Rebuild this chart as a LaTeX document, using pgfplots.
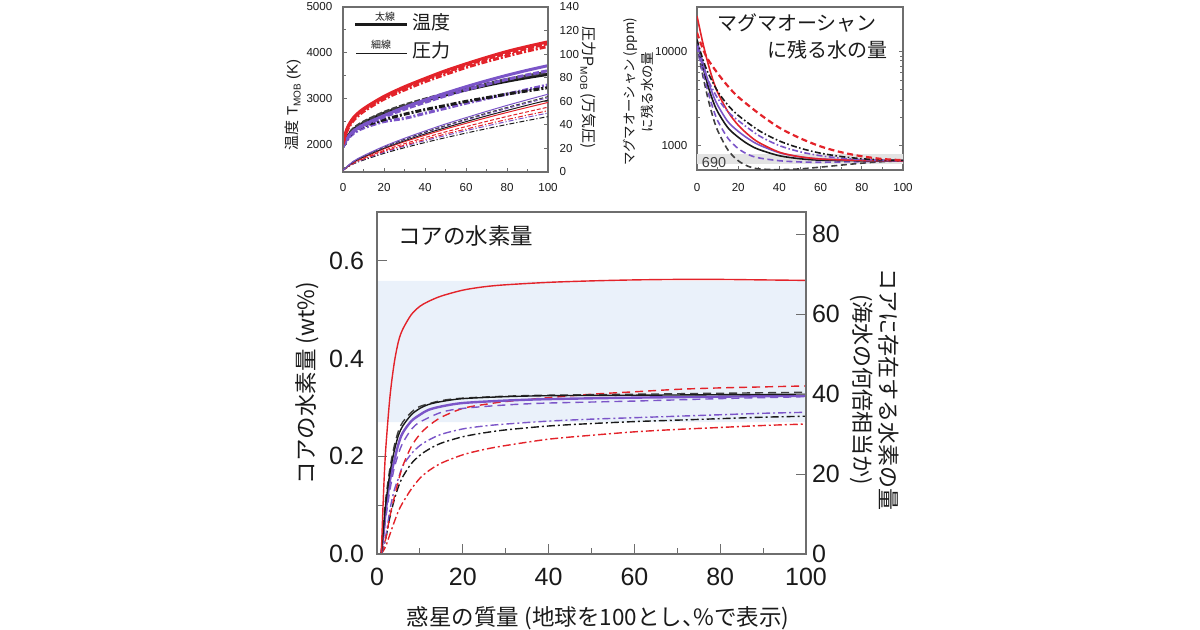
\documentclass[border=0pt]{standalone}
\usepackage{fontspec}
\setmainfont{Liberation Sans}
\newfontfamily\jp{Noto Sans CJK JP}
\usepackage{pgfplots}
\pgfplotsset{compat=1.18}
\definecolor{cred}{HTML}{E3232A}
\definecolor{cpur}{HTML}{7B55C8}
\definecolor{cblk}{HTML}{1A1A1A}
\definecolor{cgry}{HTML}{404040}
\definecolor{cband}{HTML}{EAF1FA}
\definecolor{axgray}{HTML}{6E6E6E}
\definecolor{txt}{HTML}{1A1A1A}
\pgfplotsset{
  /pgf/number format/1000 sep={},
  base/.style={scale only axis, axis line style={axgray,line width=0.6pt},
    tick style={axgray,line width=0.5pt}, tick align=inside,
    /pgf/number format/assume math mode=true, scaled ticks=false,
    xmin=0, xmax=100, ticklabel style={text=txt}},
  bs/.style={line width=0.7pt},
  bd/.style={line width=0.7pt, dash pattern=on 4pt off 2.5pt},
  bdd/.style={line width=0.7pt, dash pattern=on 4pt off 1.5pt on 1pt off 1.5pt},
  ts/.style={line width=1.5pt},
  td/.style={line width=1.5pt, dash pattern=on 3pt off 1pt},
  tdd/.style={line width=1.5pt, dash pattern=on 3pt off 1pt on 1pt off 1pt},
  ns/.style={line width=0.5pt},
  nd/.style={line width=0.5pt, dash pattern=on 2pt off 1pt},
  ndd/.style={line width=0.5pt, dash pattern=on 2.5pt off 1pt on 0.6pt off 1pt},
  rs/.style={line width=0.8pt},
  rd/.style={line width=0.8pt, dash pattern=on 3pt off 1.8pt},
  rdd/.style={line width=0.8pt, dash pattern=on 3pt off 1.2pt on 0.8pt off 1.2pt},
}
\begin{document}
\begin{tikzpicture}
\useasboundingbox (0,0) rectangle (600pt,315pt);

%================ TOP LEFT: temperature (thick) ================
\begin{axis}[base, at={(171.5pt,229pt)}, anchor=south west, width=102.5pt, height=82.5pt,
  ymin=1400, ymax=5000,
  xtick={0,20,...,100}, minor xtick={10,30,...,90}, xtick pos=bottom,
  ytick={2000,3000,4000,5000}, minor ytick={1500,2500,3500,4500}, ytick pos=left,
  major tick length=2.2pt, minor tick length=1.3pt,
  ticklabel style={font=\fontsize{5.8}{6}\selectfont},
  xticklabel style={yshift=-2.4pt}, yticklabel style={xshift=-1.8pt}]
\addplot[cpur, tdd, smooth] coordinates {(0,1950)(2,2100)(5,2240)(10,2360)(20,2500)(30,2570)(40,2680)(50,2790)(60,2900)(70,3000)(80,3100)(90,3200)(100,3300)};
\addplot[cblk, tdd, smooth] coordinates {(0,1950)(2,2120)(5,2280)(10,2400)(20,2540)(30,2660)(40,2760)(50,2850)(60,2940)(70,3020)(80,3100)(90,3170)(100,3240)};
\addplot[cblk, ts, smooth] coordinates {(0,1950)(2,2150)(5,2320)(10,2470)(20,2680)(30,2830)(40,2960)(50,3080)(60,3190)(70,3290)(80,3380)(90,3460)(100,3530)};
\addplot[cgry, td, smooth] coordinates {(0,1950)(2,2160)(5,2340)(10,2490)(20,2700)(30,2860)(40,2990)(50,3110)(60,3220)(70,3320)(80,3420)(90,3500)(100,3580)};
\addplot[cpur, td, smooth] coordinates {(0,1950)(2,2120)(5,2270)(10,2410)(20,2600)(30,2770)(40,2920)(50,3060)(60,3190)(70,3310)(80,3420)(90,3520)(100,3610)};
\addplot[cpur, ts, smooth] coordinates {(0,1950)(2,2130)(5,2290)(10,2430)(20,2630)(30,2810)(40,2970)(50,3120)(60,3260)(70,3390)(80,3510)(90,3620)(100,3720)};
\addplot[cred, tdd, smooth] coordinates {(0,2000)(2,2300)(5,2520)(10,2720)(20,2990)(30,3190)(40,3370)(50,3530)(60,3680)(70,3810)(80,3930)(90,4040)(100,4140)};
\addplot[cred, td, smooth] coordinates {(0,2050)(2,2330)(5,2560)(10,2760)(20,3030)(30,3240)(40,3420)(50,3580)(60,3730)(70,3870)(80,3990)(90,4100)(100,4200)};
\addplot[cred, ts, smooth] coordinates {(0,2050)(2,2350)(5,2580)(10,2780)(20,3050)(30,3260)(40,3440)(50,3610)(60,3760)(70,3900)(80,4030)(90,4140)(100,4240)};
\end{axis}

%================ TOP LEFT: pressure (thin) ================
\begin{axis}[base, at={(171.5pt,229pt)}, anchor=south west, width=102.5pt, height=82.5pt,
  ymin=0, ymax=140, xtick=\empty,
  ytick={0,20,...,140}, ytick pos=right, yticklabel pos=right,
  major tick length=2.2pt,
  ticklabel style={font=\fontsize{5.8}{6}\selectfont},
  yticklabel style={xshift=2.3pt}]
\addplot[cblk, ndd, smooth] coordinates {(0,1.5)(5,6.8)(10,10.1)(20,15.8)(30,20.6)(40,25.0)(50,29.1)(60,33.0)(70,36.7)(80,40.3)(90,43.7)(100,47)};
\addplot[cpur, ndd, smooth] coordinates {(0,1.5)(5,7.1)(10,10.7)(20,16.7)(30,21.9)(40,26.6)(50,30.9)(60,35.1)(70,39.0)(80,42.8)(90,46.5)(100,50)};
\addplot[cred, ndd, smooth] coordinates {(0,1.5)(5,7.4)(10,11.1)(20,17.4)(30,22.7)(40,27.6)(50,32.2)(60,36.4)(70,40.6)(80,44.5)(90,48.3)(100,52)};
\addplot[cred, nd, smooth] coordinates {(0,1.5)(5,7.7)(10,11.7)(20,18.3)(30,24.0)(40,29.2)(50,34.0)(60,38.5)(70,42.9)(80,47.1)(90,51.1)(100,55)};
\addplot[cred, ns, smooth] coordinates {(0,1.5)(5,8.2)(10,12.4)(20,19.6)(30,25.7)(40,31.2)(50,36.4)(60,41.3)(70,46.0)(80,50.5)(90,54.8)(100,59)};
\addplot[cblk, ns, smooth] coordinates {(0,1.5)(5,8.4)(10,12.8)(20,20.2)(30,26.5)(40,32.3)(50,37.6)(60,42.7)(70,47.6)(80,52.2)(90,56.7)(100,61)};
\addplot[cpur, nd, smooth] coordinates {(0,1.5)(5,8.6)(10,13.2)(20,20.8)(30,27.3)(40,33.3)(50,38.8)(60,44.1)(70,49.1)(80,53.9)(90,58.5)(100,63)};
\addplot[cgry, nd, smooth] coordinates {(0,1.5)(5,8.8)(10,13.4)(20,21.1)(30,27.8)(40,33.8)(50,39.4)(60,44.8)(70,49.9)(80,54.8)(90,59.4)(100,64)};
\addplot[cpur, ns, smooth] coordinates {(0,1.5)(5,9.0)(10,13.8)(20,21.8)(30,28.6)(40,34.8)(50,40.7)(60,46.1)(70,51.4)(80,56.5)(90,61.3)(100,66)};
\end{axis}

% top-left legend and labels
\draw[cblk, line width=1.5pt] (177.5pt,302.9pt) -- (203.5pt,302.9pt);
\draw[cblk, line width=0.5pt] (178pt,288.4pt) -- (203.5pt,288.4pt);
\node[text=txt, font=\jp\fontsize{5}{5}\selectfont] at (192.5pt,306.8pt) {太線};
\node[text=txt, font=\jp\fontsize{5}{5}\selectfont] at (190.5pt,292.4pt) {細線};
\node[text=txt, font=\jp\fontsize{9.5}{10}\selectfont] at (215.5pt,303.6pt) {温度};
\node[text=txt, font=\jp\fontsize{9.5}{10}\selectfont] at (215.5pt,290pt) {圧力};
\node[text=txt, rotate=90, font=\fontsize{7.5}{8}\selectfont] at (146.5pt,262.5pt)
  {{\jp 温度} T\raisebox{-0.35ex}{\fontsize{5}{5}\selectfont MOB} (K)};
\node[text=txt, rotate=-90, font=\fontsize{7.5}{8}\selectfont] at (294pt,271pt)
  {{\jp 圧力}P\raisebox{-0.35ex}{\fontsize{5}{5}\selectfont MOB} {\jp (万気圧)}};

%================ TOP RIGHT: water in magma ocean ================
\begin{axis}[base, at={(348.5pt,230pt)}, anchor=south west, width=103pt, height=81.5pt,
  ymode=log, ymin=550, ymax=30000,
  xtick={0,20,...,100}, minor xtick={10,30,...,90}, xtick pos=bottom,
  ytick={1000,10000}, yticklabels={1000,10000}, ytick pos=both, yticklabel pos=left,
  major tick length=2.2pt, minor tick length=1.3pt,
  ticklabel style={font=\fontsize{5.8}{6}\selectfont},
  xticklabel style={yshift=-3.3pt}, yticklabel style={xshift=-1.3pt}]
\addplot[fill=gray!22, draw=none] coordinates {(0,640)(100,640)(100,810)(0,810)(0,640)};
\addplot[cgry, rd, smooth] coordinates {(0,12000)(2,6800)(5,3400)(7.5,2100)(10,1450)(15,900)(20,690)(25,600)(30,565)(40,555)(50,565)(60,590)(70,620)(80,650)(90,675)(100,690)};
\addplot[cpur, rd, smooth] coordinates {(0,11500)(2,7200)(5,4000)(7.5,2600)(10,1850)(15,1200)(20,930)(25,800)(30,740)(40,690)(50,670)(60,665)(80,675)(100,690)};
\addplot[cblk, rs, smooth] coordinates {(0,12500)(2,8200)(5,4600)(7.5,3100)(10,2300)(15,1550)(20,1230)(25,1030)(30,910)(40,780)(50,725)(60,700)(80,690)(100,690)};
\addplot[cpur, rs, smooth] coordinates {(0,13000)(2,9000)(5,5200)(7.5,3600)(10,2700)(15,1800)(20,1420)(25,1180)(30,1020)(40,840)(50,760)(60,720)(80,700)(100,690)};
\addplot[cred, rs, smooth] coordinates {(0,24000)(1,19000)(2,15000)(3,12000)(5,8000)(7.5,5200)(10,3700)(15,2300)(20,1650)(25,1300)(30,1080)(40,850)(50,760)(60,720)(70,705)(80,695)(100,690)};
\addplot[cpur, rdd, smooth] coordinates {(0,11500)(2,8000)(5,5200)(10,3200)(15,2300)(20,1850)(30,1280)(40,1000)(50,860)(60,780)(70,735)(80,710)(90,700)(100,690)};
\addplot[cblk, rdd, smooth] coordinates {(0,13500)(2,9500)(5,6200)(10,3800)(15,2700)(20,2100)(30,1450)(40,1120)(50,940)(60,830)(70,765)(80,725)(90,705)(100,695)};
\addplot[cred, rd, line width=1.1pt, smooth] coordinates {(0,16000)(2,12000)(5,8500)(10,5900)(15,4300)(20,3300)(30,2200)(40,1550)(50,1200)(60,980)(70,850)(80,770)(90,720)(100,700)};
\end{axis}
\node[text=cgry, font=\fontsize{7.2}{7.5}\selectfont] at (357pt,233.5pt) {690};
\node[text=txt, font=\jp\fontsize{10}{10}\selectfont] at (398.5pt,303.5pt) {マグマオーシャン};
\node[text=txt, font=\jp\fontsize{10}{10}\selectfont] at (413.5pt,290pt) {に残る水の量};
\node[text=txt, rotate=90, align=center, font=\jp\fontsize{6.7}{9}\selectfont] at (319.3pt,269pt)
  {マグマオーシャン (ppm)\\に残る水の量};

%================ BOTTOM: hydrogen in core ================
\begin{axis}[base, at={(188.5pt,38pt)}, anchor=south west, width=214.5pt, height=171pt,
  ymin=0, ymax=0.7,
  xtick={0,20,...,100}, minor xtick={10,30,...,90}, xtick pos=bottom,
  ytick={0,0.2,0.4,0.6}, minor ytick={0.1,0.3,0.5}, ytick pos=left,
  major tick length=5pt, minor tick length=3pt,
  ticklabel style={font=\fontsize{12.5}{13}\selectfont},
  yticklabel style={/pgf/number format/fixed, /pgf/number format/fixed zerofill, /pgf/number format/precision=1, xshift=-3pt},
  xticklabel style={yshift=-3.5pt}]
\addplot[fill=cband, draw=none] coordinates {(0,0.27)(100,0.27)(100,0.559)(0,0.559)(0,0.27)};
\addplot[cred, bdd, smooth] coordinates {(1,0)(2,0.015)(3,0.04)(4,0.065)(5,0.088)(6,0.105)(8,0.133)(10,0.155)(12,0.17)(15,0.186)(20,0.203)(25,0.214)(30,0.222)(40,0.235)(50,0.243)(60,0.25)(70,0.255)(80,0.259)(90,0.263)(100,0.266)};
\addplot[cblk, bdd, smooth] coordinates {(1,0)(2,0.03)(3,0.075)(4,0.11)(5,0.138)(6,0.158)(8,0.185)(10,0.202)(12,0.214)(15,0.227)(20,0.24)(25,0.248)(30,0.254)(40,0.262)(50,0.267)(60,0.271)(70,0.274)(80,0.277)(90,0.28)(100,0.282)};
\addplot[cpur, bdd, smooth] coordinates {(1,0)(2,0.035)(3,0.09)(4,0.13)(5,0.155)(6,0.18)(8,0.205)(10,0.222)(12,0.233)(15,0.245)(20,0.256)(25,0.262)(30,0.266)(40,0.272)(50,0.276)(60,0.279)(70,0.282)(80,0.285)(90,0.288)(100,0.29)};
\addplot[cred, bd, smooth] coordinates {(1,0)(2,0.03)(3,0.077)(4,0.115)(5,0.15)(6,0.18)(8,0.22)(10,0.245)(12,0.262)(15,0.28)(20,0.298)(25,0.306)(30,0.312)(40,0.32)(50,0.327)(60,0.332)(70,0.337)(80,0.34)(90,0.342)(100,0.344)};
\addplot[cpur, bd, smooth] coordinates {(1,0)(2,0.07)(3,0.13)(4,0.175)(5,0.205)(6,0.227)(8,0.255)(10,0.27)(15,0.29)(20,0.298)(30,0.305)(40,0.309)(60,0.313)(80,0.318)(100,0.322)};
\addplot[cpur, line width=1.2pt, smooth] coordinates {(1,0)(1.5,0.04)(2,0.085)(3,0.15)(4,0.19)(5,0.225)(6,0.248)(8,0.272)(10,0.285)(12,0.295)(15,0.302)(20,0.309)(30,0.314)(40,0.317)(60,0.32)(80,0.322)(100,0.324)};
\addplot[cgry, bd, smooth] coordinates {(1,0)(1.5,0.06)(2,0.11)(3,0.175)(4,0.22)(5,0.252)(6,0.27)(8,0.29)(10,0.302)(15,0.314)(20,0.319)(30,0.323)(40,0.325)(60,0.327)(80,0.329)(100,0.331)};
\addplot[cblk, bs, smooth] coordinates {(1,0)(1.5,0.05)(2,0.1)(3,0.165)(4,0.21)(5,0.243)(6,0.262)(8,0.285)(10,0.298)(12,0.306)(15,0.312)(20,0.318)(30,0.322)(40,0.324)(60,0.325)(80,0.326)(100,0.327)};
\addplot[cred, bs, smooth] coordinates {(1,0)(1.5,0.12)(2,0.21)(3,0.32)(4,0.39)(5,0.435)(6,0.46)(8,0.49)(10,0.507)(12,0.517)(15,0.528)(20,0.54)(25,0.547)(30,0.551)(40,0.556)(50,0.559)(60,0.561)(70,0.562)(80,0.562)(90,0.561)(100,0.56)};
\end{axis}
\begin{axis}[base, at={(188.5pt,38pt)}, anchor=south west, width=214.5pt, height=171pt,
  ymin=0, ymax=85.6, xtick=\empty,
  ytick={0,20,...,80}, ytick pos=right, yticklabel pos=right,
  major tick length=5pt,
  ticklabel style={font=\fontsize{12.5}{13}\selectfont},
  yticklabel style={xshift=-0.5pt}]
\end{axis}
\node[text=txt, anchor=west, font=\jp\fontsize{11.25}{12}\selectfont] at (195.5pt,197pt) {コアの水素量};
\node[text=txt, font=\jp\fontsize{11.25}{12}\selectfont] at (299pt,5.8pt) {惑星の質量 (地球を100とし\makebox[0.5em][l]{、}\%で表示)};
\node[text=txt, rotate=90, font=\jp\fontsize{11.25}{12}\selectfont] at (153.5pt,123.5pt) {コアの水素量 (wt\%)};
\node[text=txt, rotate=-90, align=center, font=\jp\fontsize{11}{13}\selectfont] at (437.5pt,120pt)
  {コアに存在する水素の量\\(海水の何倍相当か)};
\end{tikzpicture}
\end{document}
